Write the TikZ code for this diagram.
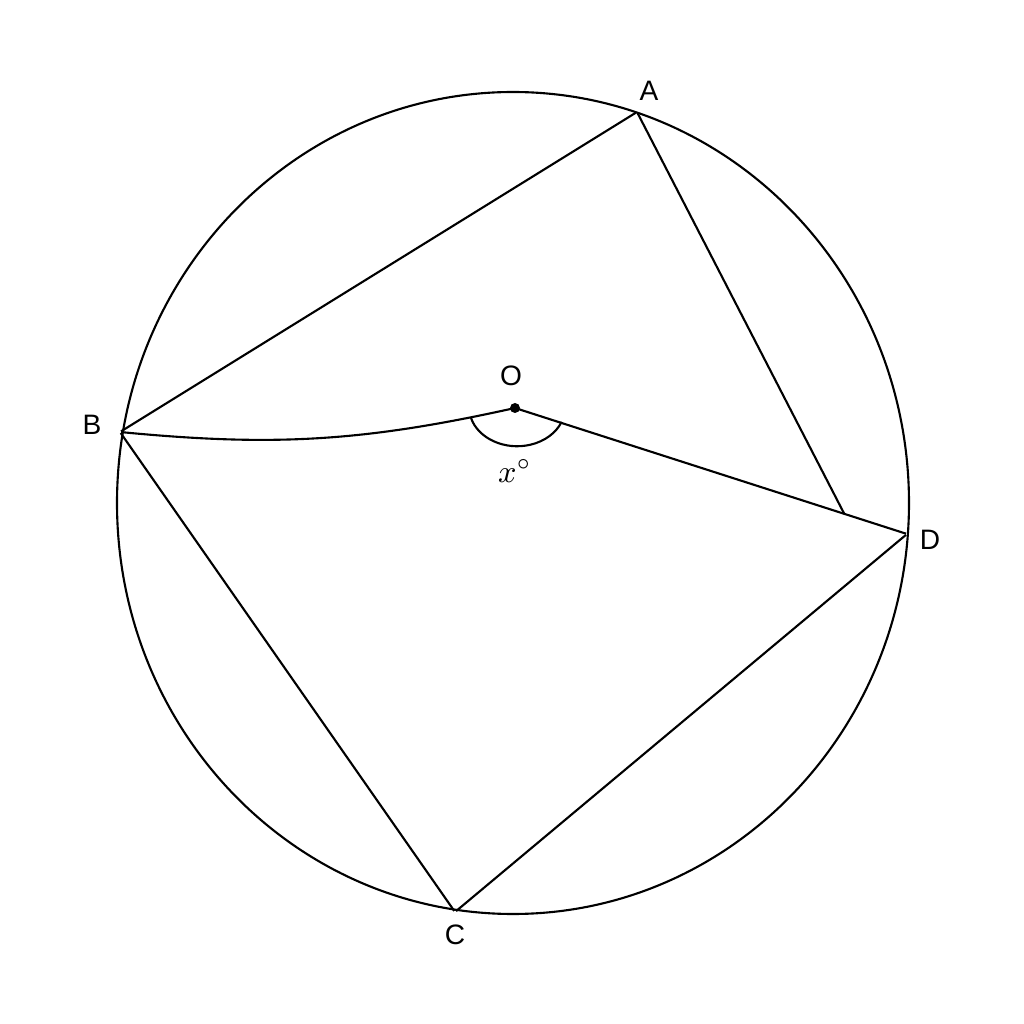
\documentclass[tikz,border=0pt]{standalone}
\usepackage{amsmath,amssymb}
\usepackage{fontspec}
\setmainfont{Liberation Sans}
\usepackage{tikz}
\usetikzlibrary{calc}

\begin{document}
\begin{tikzpicture}[line width=0.6pt,font=\fontsize{8}{10}\selectfont]
\useasboundingbox (0,0) rectangle (10.24,10.24);
\tikzset{pt/.style={inner sep=0pt,minimum size=0pt}}
\node[pt]          (A) at (6.37,9.12) {};
\node[pt]          (B) at (1.20,5.92) {};
\node[pt]          (C) at (4.55,1.12) {};
\node[pt]          (D) at (9.07,4.90) {};
\node[pt]          (O) at (5.15,6.16) {};
\coordinate        (E) at ($(O)!0.84!(D)$);

\node              (lA) at (6.49,9.33) {A};
\node              (lB) at (0.92,5.99) {B};
\node              (lC) at (4.55,0.89) {C};
\node              (lD) at (9.30,4.84) {D};
\node              (lO) at (5.11,6.48) {O};
\node              (lx) at (5.15,5.53) {\fontsize{9}{10}\selectfont$x^\circ$};

\draw (5.13,5.21) ellipse (3.96 and 4.11);

\path[draw]
      (B) edge              (A)
      (A) edge              (E)
      (O) edge              (D)
      (B) edge              (C)
      (C) edge              (D)
      (B) edge[bend right=9] (O);

% angle mark at O
\draw ($(O)+(-0.44,-0.10)$) arc[start angle=196,end angle=338,x radius=0.48,y radius=0.39];
\fill (O) circle (0.05);
\end{tikzpicture}
\end{document}
